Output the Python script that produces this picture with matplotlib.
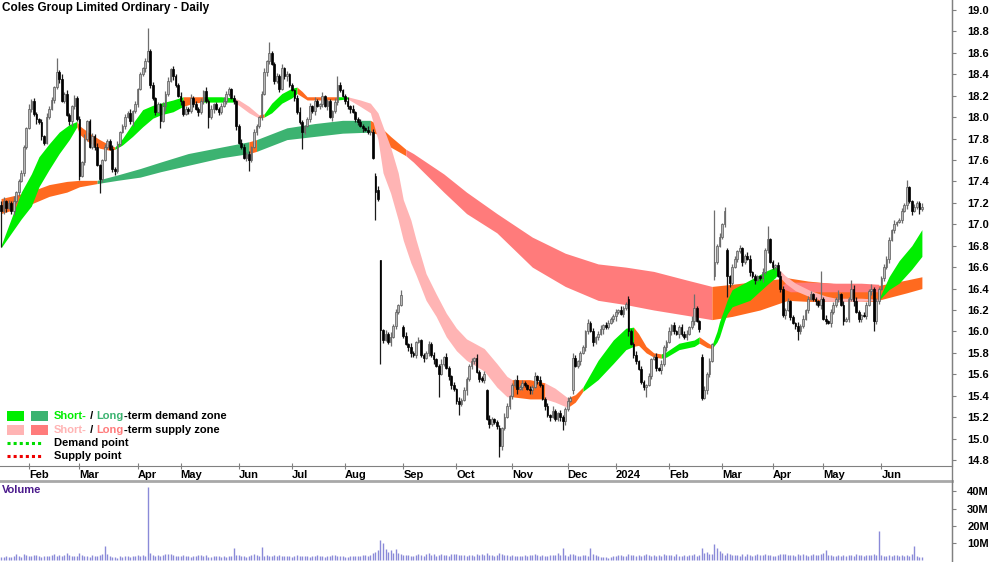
import matplotlib
matplotlib.use('Agg')
import matplotlib.pyplot as plt
import numpy as np
import pandas as pd
from matplotlib import transforms
from matplotlib.lines import Line2D
from matplotlib.patches import Rectangle

plt.rcParams['font.family'] = ['Liberation Sans', 'DejaVu Sans']

title = 'Coles Group Limited Ordinary - Daily'
first_day = '2023-01-16'
holidays = ['2023-01-26', '2023-04-07', '2023-04-10', '2023-04-25', '2023-06-12',
            '2023-12-25', '2023-12-26', '2024-01-01', '2024-01-26', '2024-03-29',
            '2024-04-01', '2024-04-25', '2024-06-10']

# daily closes, cents
closes = [
    1712, 1722, 1715, 1720, 1712, 1722, 1730, 1740, 1748, 1772,
    1790, 1808, 1815, 1803, 1798, 1795, 1782, 1776, 1800, 1808,
    1816, 1828, 1842, 1836, 1815, 1822, 1802, 1796, 1810, 1818,
    1798, 1745, 1758, 1780, 1796, 1772, 1782, 1772, 1755, 1742,
    1760, 1772, 1778, 1770, 1752, 1750, 1775, 1786, 1792, 1800,
    1804, 1796, 1806, 1812, 1826, 1840, 1846, 1852, 1862, 1830,
    1818, 1805, 1812, 1796, 1810, 1822, 1834, 1845, 1838, 1830,
    1820, 1815, 1803, 1808, 1806, 1818, 1812, 1808, 1805, 1815,
    1824, 1815, 1800, 1808, 1812, 1808, 1805, 1810, 1815, 1822,
    1826, 1818, 1815, 1792, 1776, 1772, 1762, 1766, 1760, 1772,
    1786, 1792, 1800, 1822, 1842, 1852, 1860, 1850, 1834, 1838,
    1826, 1846, 1838, 1840, 1830, 1825, 1818, 1805, 1795, 1786,
    1792, 1798, 1810, 1806, 1815, 1810, 1812, 1820, 1810, 1815,
    1800, 1806, 1814, 1830, 1825, 1820, 1815, 1810, 1808, 1805,
    1798, 1795, 1792, 1790, 1788, 1786, 1786, 1762, 1730, 1724,
    1601, 1592, 1598, 1590, 1595, 1605, 1618, 1625, 1634, 1596,
    1588, 1585, 1580, 1578, 1590, 1592, 1578, 1575, 1580, 1588,
    1578, 1574, 1568, 1560, 1570, 1576, 1566, 1558, 1550, 1546,
    1535, 1532, 1536, 1545, 1556, 1568, 1572, 1575, 1562, 1556,
    1555, 1560, 1518, 1514, 1518, 1515, 1512, 1493, 1510, 1520,
    1530, 1540, 1550, 1555, 1546, 1548, 1552, 1550, 1546, 1545,
    1548, 1558, 1555, 1550, 1537, 1530, 1522, 1520, 1526, 1518,
    1524, 1520, 1516, 1528, 1535, 1538, 1575, 1568, 1572, 1580,
    1585, 1600, 1608, 1600, 1590, 1595, 1598, 1602, 1606, 1604,
    1608, 1612, 1614, 1618, 1620, 1616, 1622, 1626, 1600, 1588,
    1578, 1572, 1565, 1553, 1548, 1550, 1558, 1574, 1576, 1566,
    1564, 1570, 1585, 1590, 1600, 1606, 1600, 1598, 1604, 1598,
    1595, 1598, 1604, 1610, 1622, 1610, 1602, 1538, 1545, 1560,
    1572, 1588, 1665, 1680, 1688, 1700, 1712, 1652, 1645, 1660,
    1668, 1675, 1678, 1665, 1670, 1668, 1655, 1652, 1648, 1652,
    1650, 1655, 1676, 1686, 1665, 1660, 1662, 1652, 1640, 1615,
    1620, 1628, 1613, 1608, 1605, 1600, 1605, 1612, 1620, 1630,
    1635, 1630, 1628, 1625, 1630, 1612, 1610, 1608, 1618, 1625,
    1630, 1635, 1625, 1610, 1612, 1630, 1640, 1628, 1618, 1612,
    1615, 1614, 1625, 1638, 1640, 1610, 1628, 1640, 1650, 1660,
    1668, 1685, 1695, 1700, 1702, 1704, 1712, 1718, 1735, 1722,
    1712, 1716, 1720, 1714, 1716,
]
# opens that differ from the previous close (gaps)
open_gaps = {0: 1718, 148: 1745, 149: 1732, 150: 1667, 159: 1604, 192: 1545,
             197: 1510, 226: 1545, 248: 1630, 277: 1576, 282: 1652, 287: 1676}
high_marks = {0: 1722, 22: 1855, 58: 1883, 106: 1870, 133: 1838, 148: 1748,
              150: 1667, 158: 1639, 226: 1580, 274: 1635, 282: 1713, 286: 1716,
              303: 1698, 324: 1656, 336: 1648, 358: 1741}
low_marks = {0: 1679, 39: 1729, 63: 1790, 82: 1790, 98: 1750, 119: 1770,
             148: 1704, 150: 1570, 173: 1539, 181: 1522, 197: 1483, 222: 1508,
             255: 1539, 277: 1536, 287: 1632, 315: 1592, 345: 1600}
# ordinary wick lengths beyond the body, cents per day
wick_up = ''.join([
    '2313241232', '1423213142', '3122413213', '2314123241', '1322413123',
    '2413121342', '3121423132', '2312142313', '1423121342', '2131243121',
    '3212413213', '2413121342', '1231421312', '2142312413', '1232141324',
    '2131423122', '3142131223', '2312414213', '1423123142', '2314212314',
    '3121423213', '2413123142', '1321421312', '2142312413', '3123142132',
    '2413213124', '1322413123', '2314121342', '3122413213', '2131243121',
    '1423121342', '2312142313', '3121423132', '2413121342', '1322413123',
    '2314123241', '13224'])
wick_dn = ''.join([
    '3241232413', '2132413212', '1324121342', '2413212314', '3121342213',
    '1242312413', '2313142132', '1421323142', '3212413213', '2134121342',
    '1323142132', '3124213214', '2132412313', '1423213241', '3214123132',
    '2312413212', '1342312413', '2413121342', '3121423213', '2314213142',
    '1232413213', '3142132412', '2413213123', '1321423142', '2134213241',
    '3212341213', '1423132142', '2312413213', '3142123142', '1324213241',
    '2413123132', '3121342213', '1232413142', '2314132413', '3121423213',
    '2413213142', '31242'])

# volume, millions
volume_m = [
    2.1, 2.0, 2.3, 1.9, 2.2, 2.4, 3.8, 2.6, 2.2, 3.9,
    3.2, 2.8, 2.5, 2.9, 3.4, 2.4, 2.2, 2.6, 2.3, 2.8,
    3.1, 3.6, 2.7, 3.3, 2.5, 3.0, 4.4, 2.9, 2.6, 2.4,
    2.8, 4.6, 3.1, 2.6, 2.4, 2.2, 2.9, 2.5, 2.7, 3.3,
    3.9, 8.3, 3.5, 2.4, 2.1, 1.8, 1.6, 2.3, 2.2, 2.6,
    2.4, 2.2, 2.8, 2.5, 2.9, 2.6, 3.1, 2.4, 42.5, 4.1,
    3.0, 2.6, 3.4, 2.8, 3.3, 3.6, 3.5, 3.5, 3.2, 2.6,
    2.8, 2.3, 3.0, 2.5, 2.4, 2.2, 2.7, 2.6, 3.1, 3.3,
    2.6, 2.9, 2.2, 2.0, 2.5, 2.8, 2.3, 2.1, 2.4, 2.2,
    2.6, 2.8, 7.0, 3.4, 3.2, 2.4, 2.6, 2.2, 2.8, 3.3,
    3.6, 3.0, 2.8, 8.0, 2.6, 3.1, 2.5, 2.7, 3.2, 2.4,
    2.9, 2.6, 2.3, 2.8, 2.4, 2.2, 2.6, 2.9, 2.5, 2.7,
    2.3, 2.6, 2.2, 2.4, 2.8, 3.0, 2.5, 2.4, 2.2, 2.7,
    2.5, 2.9, 3.2, 2.6, 2.8, 2.4, 2.2, 2.0, 2.6, 2.8,
    2.3, 2.7, 2.4, 2.9, 3.1, 2.6, 3.4, 4.2, 5.0, 6.2,
    12.0, 10.2, 6.4, 4.8, 5.8, 4.4, 6.8, 4.6, 3.9, 3.3,
    3.0, 3.2, 2.8, 2.6, 3.4, 3.5, 2.9, 2.7, 3.8, 4.2,
    3.1, 3.6, 2.8, 3.4, 3.9, 3.0, 3.3, 2.7, 3.5, 4.0,
    3.6, 2.9, 3.4, 3.1, 2.6, 3.0, 3.3, 2.8, 3.7, 3.2,
    3.5, 2.9, 4.2, 3.4, 3.0, 2.8, 3.3, 4.5, 3.6, 2.9,
    3.4, 2.6, 3.2, 2.5, 2.8, 2.4, 2.6, 3.0, 2.7, 3.3,
    2.9, 3.6, 3.4, 2.8, 3.1, 2.6, 2.4, 2.9, 3.2, 3.0,
    4.4, 3.2, 7.0, 3.1, 2.8, 3.6, 3.9, 3.2, 2.6, 2.4,
    3.4, 3.0, 2.8, 7.2, 3.6, 2.9, 2.5, 2.2, 2.0, 1.8,
    1.6, 1.9, 2.4, 2.8, 3.4, 3.0, 2.6, 2.8, 3.5, 3.3,
    3.0, 2.6, 3.1, 2.8, 3.4, 3.6, 3.0, 2.6, 3.2, 2.8,
    3.1, 2.8, 3.5, 3.0, 2.9, 3.3, 2.7, 3.6, 2.4, 2.8,
    3.2, 2.6, 3.0, 3.4, 3.5, 2.7, 3.2, 7.1, 4.5, 5.0,
    4.0, 3.6, 9.4, 7.0, 5.2, 4.1, 3.2, 4.5, 3.5, 3.0,
    2.9, 3.2, 2.7, 3.6, 2.5, 3.8, 3.0, 2.8, 3.3, 4.0,
    3.2, 2.9, 3.6, 3.1, 3.4, 2.7, 2.4, 3.0, 3.5, 3.8,
    3.6, 3.1, 3.3, 3.0, 2.8, 3.5, 3.2, 3.9, 3.0, 2.8,
    3.2, 3.6, 3.4, 3.1, 3.9, 4.2, 6.2, 3.4, 3.0, 2.8,
    2.6, 3.1, 2.4, 3.0, 2.7, 3.3, 3.0, 2.6, 3.5, 3.2,
    2.9, 2.5, 3.0, 3.4, 3.1, 3.6, 3.2, 17.2, 3.0, 2.8,
    2.6, 3.2, 2.5, 2.9, 3.0, 2.7, 3.3, 2.8, 3.1, 2.6,
    3.6, 8.1, 2.4, 2.2, 2.1,
]

# long-term zone (day index, top, bottom, state of the stretch that follows)
lt_days = [0, 11, 19, 26, 31, 38, 46, 55, 63, 74, 87, 98, 101, 113, 124, 135, 146, 149,
           154, 160, 163, 175, 184, 196, 210, 223, 236, 247, 258, 271, 281, 289, 300,
           311, 319, 332, 345, 358, 364]
lt_upper = [17.24, 17.30, 17.37, 17.40, 17.41, 17.41, 17.46, 17.52, 17.58, 17.66, 17.72,
            17.77, 17.79, 17.90, 17.94, 17.97, 17.97, 17.93, 17.82, 17.70, 17.66, 17.47,
            17.30, 17.10, 16.88, 16.73, 16.63, 16.60, 16.56, 16.48, 16.42, 16.44, 16.47,
            16.50, 16.47, 16.44, 16.42, 16.48, 16.51]
lt_lower = [17.10, 17.18, 17.26, 17.30, 17.35, 17.38, 17.41, 17.44, 17.49, 17.55, 17.62,
            17.66, 17.68, 17.79, 17.82, 17.85, 17.86, 17.84, 17.72, 17.64, 17.58, 17.30,
            17.10, 16.92, 16.60, 16.42, 16.29, 16.25, 16.20, 16.15, 16.11, 16.14, 16.20,
            16.29, 16.28, 16.28, 16.28, 16.36, 16.40]
lt_state = ['mixed'] * 5 + ['demand'] * 6 + ['mixed'] + ['demand'] * 4 + ['mixed'] * 3 + \
           ['supply'] * 11 + ['mixed'] * 9

# long-term supply strip seen on top of the zone in Apr-May 2024
lts_days = [309, 312, 320, 330, 340, 347]
lts_upper = [16.44, 16.46, 16.46, 16.45, 16.45, 16.44]
lts_lower = [16.40, 16.37, 16.37, 16.37, 16.37, 16.37]

# short-term zone
st_days = [0, 8, 12, 15, 19, 23, 27, 30, 31, 35, 39, 43, 45, 48, 52, 56, 60, 63, 68, 72,
           76, 80, 87, 92, 94, 98, 102, 104, 107, 111, 115, 117, 119, 121, 133, 137, 142,
           146, 149, 151, 154, 157, 159, 162, 164, 168, 172, 176, 180, 184, 191, 196, 200,
           202, 209, 215, 219, 224, 227, 230, 236, 242, 247, 250, 252, 255, 258, 261, 263,
           268, 274, 276, 279, 281, 283, 284, 286, 287, 289, 296, 303, 306, 307, 310, 314,
           320, 326, 330, 340, 347, 351, 355, 360, 364]
st_upper = [16.80, 17.30, 17.47, 17.63, 17.75, 17.86, 17.93, 17.96, 17.92, 17.85, 17.79,
            17.74, 17.72, 17.80, 17.94, 18.07, 18.11, 18.13, 18.16, 18.19, 18.19, 18.19,
            18.19, 18.18, 18.16, 18.10, 18.02, 18.03, 18.13, 18.22, 18.27, 18.28, 18.24,
            18.19, 18.19, 18.19, 18.16, 18.13, 18.04, 17.91, 17.72, 17.48, 17.23, 17.04,
            16.86, 16.54, 16.35, 16.17, 16.03, 15.93, 15.84, 15.70, 15.58, 15.55, 15.55,
            15.52, 15.47, 15.38, 15.41, 15.48, 15.73, 15.92, 16.03, 16.04, 15.98, 15.86,
            15.80, 15.79, 15.81, 15.89, 15.92, 15.95, 15.90, 15.87, 16.00, 16.09, 16.22,
            16.29, 16.39, 16.48, 16.57, 16.60, 16.59, 16.52, 16.45, 16.38, 16.33, 16.31,
            16.31, 16.30, 16.51, 16.66, 16.80, 16.95]
st_lower = [16.78, 17.05, 17.17, 17.35, 17.51, 17.66, 17.79, 17.91, 17.84, 17.76, 17.71,
            17.69, 17.70, 17.74, 17.82, 17.91, 17.99, 18.02, 18.05, 18.10, 18.13, 18.14,
            18.14, 18.14, 18.11, 18.04, 17.99, 18.00, 18.04, 18.13, 18.18, 18.22, 18.19,
            18.16, 18.16, 18.17, 18.10, 18.04, 17.79, 17.48, 17.29, 17.04, 16.85, 16.64,
            16.53, 16.29, 16.14, 15.95, 15.82, 15.73, 15.63, 15.48, 15.39, 15.39, 15.37,
            15.37, 15.34, 15.29, 15.34, 15.44, 15.55, 15.70, 15.83, 15.86, 15.87, 15.80,
            15.76, 15.75, 15.76, 15.83, 15.86, 15.89, 15.85, 15.84, 15.90, 15.95, 16.10,
            16.16, 16.23, 16.29, 16.44, 16.50, 16.53, 16.45, 16.38, 16.32, 16.28, 16.28,
            16.28, 16.29, 16.39, 16.45, 16.58, 16.70]
st_state = ['demand'] * 7 + ['mixed'] * 5 + ['demand'] * 7 + ['mixed'] * 2 + \
           ['demand'] * 2 + ['supply'] * 3 + ['mixed'] + ['demand'] * 4 + ['mixed'] * 3 + \
           ['demand'] + ['supply'] * 18 + ['mixed'] * 2 + ['supply'] * 2 + ['mixed'] * 2 + \
           ['demand'] * 4 + ['mixed'] * 4 + ['demand'] * 4 + ['mixed'] * 2 + \
           ['demand'] * 9 + ['supply'] * 7 + ['demand'] * 5

short_colours = {'demand': '#00ee00', 'supply': '#ffb4b4', 'mixed': '#ff6a1f'}
long_colours = {'demand': '#3cb371', 'supply': '#ff7b7b', 'mixed': '#ff6a1f'}

n = len(closes)
dates = pd.bdate_range(start=first_day, periods=n, freq='C', holidays=holidays)
x = np.arange(n)
c = np.array(closes) / 100
o = np.array([open_gaps.get(i, closes[i - 1] if i else closes[0]) for i in range(n)]) / 100
wu = np.array([int(ch) for ch in wick_up.ljust(n, '2')[:n]]) / 100
wd = np.array([int(ch) for ch in wick_dn.ljust(n, '2')[:n]]) / 100
hi = np.maximum(o, c) + wu
lo = np.minimum(o, c) - wd
for i, v in high_marks.items():
    hi[i] = max(v / 100, max(o[i], c[i]))
for i, v in low_marks.items():
    lo[i] = min(v / 100, min(o[i], c[i]))

fig = plt.figure(figsize=(10, 5.62), dpi=100)
ax = fig.add_axes([0, 96 / 562, 0.952, 466 / 562])
axv = fig.add_axes([0, 0, 0.952, 81 / 562])


def draw_zone(ax, days, upper, lower, states, colours, z):
    days, upper, lower = np.array(days), np.array(upper), np.array(lower)
    start = 0
    for k in range(1, len(days)):
        if k == len(days) - 1 or states[k] != states[start]:
            sl = slice(start, k + 1)
            ax.fill_between(days[sl], lower[sl], upper[sl], color=colours[states[start]],
                            lw=0, zorder=z)
            start = k


draw_zone(ax, lt_days, lt_upper, lt_lower, lt_state, long_colours, 2)
ax.fill_between(lts_days, lts_lower, lts_upper, color=long_colours['supply'], lw=0, zorder=2.2)
draw_zone(ax, st_days, st_upper, st_lower, st_state, short_colours, 2.5)

up = c >= o
ax.vlines(x[up], lo[up], hi[up], color='#6e6e6e', lw=0.9, zorder=3)
ax.vlines(x[~up], lo[~up], hi[~up], color='#1a1a1a', lw=0.9, zorder=3)
body = np.maximum(np.abs(c - o), 0.012)
ax.bar(x[up], body[up], bottom=np.minimum(o, c)[up], width=0.68, color='#b8b8b8',
       edgecolor='#5a5a5a', lw=0.5, zorder=4)
ax.bar(x[~up], body[~up], bottom=np.minimum(o, c)[~up], width=0.68, color='black',
       edgecolor='black', lw=0.5, zorder=4)

axv.vlines(x, 0, volume_m, color='#8a8ad8', lw=1.0)

for a in (ax, axv):
    a.set_xlim(-0.4, 375.9)
    a.spines['left'].set_visible(False)
    a.spines['top'].set_visible(False)
    a.spines['right'].set_color('#808080')
    a.yaxis.tick_right()
ax.spines['bottom'].set_color('#808080')
axv.spines['bottom'].set_visible(False)
axv.spines['top'].set_visible(True)
axv.spines['top'].set_color('#a8a8a8')
axv.spines['top'].set_linewidth(2)
fig.add_artist(Line2D([0.952, 0.952], [0, 1], transform=fig.transFigure, color='#808080', lw=1))

ax.set_ylim(14.744, 19.093)
yt = np.round(np.arange(14.8, 19.01, 0.2), 1)
ax.set_yticks(yt)
ax.set_yticklabels([f'{v:.1f}' for v in yt], fontweight='bold')
ax.tick_params(axis='y', direction='out', length=3, color='#808080', labelsize=8, pad=8)

ticks = [i for i in range(1, n) if dates[i].month != dates[i - 1].month]
labels = [str(dates[i].year) if dates[i].month == 1 else dates[i].strftime('%b') for i in ticks]
ax.set_xticks(ticks)
ax.set_xticklabels(labels, fontweight='bold', ha='left')
ax.tick_params(axis='x', direction='inout', length=4, color='#808080', labelsize=8, pad=1)

axv.set_ylim(-0.9, 46)
axv.set_yticks([10, 20, 30, 40])
axv.set_yticklabels(['10M', '20M', '30M', '40M'], fontweight='bold')
axv.tick_params(axis='y', direction='out', length=3, color='#808080', labelsize=8, pad=8)
axv.set_xticks([])
axv.text(0.002, 0.89, 'Volume', transform=axv.transAxes, color='#4b1a8c',
         fontweight='bold', fontsize=8, va='center')

ax.text(2 / 952, 1 - 8 / 466, title, transform=ax.transAxes, va='center',
        fontweight='bold', fontsize=8.5)


# legend, in figure pixels
def px(xp, yp):
    return xp / 1000, 1 - yp / 562


renderer = fig.canvas.get_renderer()


def colour_text(xp, yp, parts):
    t = fig.transFigure
    for s, col in parts:
        txt = fig.text(*px(xp, yp), s, color=col, transform=t, va='center',
                       fontweight='bold', fontsize=8)
        ex = txt.get_window_extent(renderer=renderer)
        t = transforms.offset_copy(txt.get_transform(), x=ex.width, units='dots')


for (xa, col) in [(7, short_colours['demand']), (31, long_colours['demand'])]:
    fig.add_artist(Rectangle(px(xa, 421), 17 / 1000, 10 / 562, transform=fig.transFigure,
                             color=col, lw=0))
for (xa, col) in [(7, short_colours['supply']), (31, long_colours['supply'])]:
    fig.add_artist(Rectangle(px(xa, 435), 17 / 1000, 10 / 562, transform=fig.transFigure,
                             color=col, lw=0))
colour_text(54, 416, [('Short-', short_colours['demand']), (' / ', 'black'),
                      ('Long', long_colours['demand']), ('-term demand zone', 'black')])
colour_text(54, 430, [('Short-', short_colours['supply']), (' / ', 'black'),
                      ('Long', long_colours['supply']), ('-term supply zone', 'black')])
for yp, col, lab in [(443, '#00dd00', 'Demand point'), (456, '#ee0000', 'Supply point')]:
    x0, y0 = px(7, yp)
    x1, _ = px(43, yp)
    fig.add_artist(Line2D([x0, x1], [y0, y0], transform=fig.transFigure, color=col,
                          lw=2.2, linestyle=(0, (1, 1))))
    fig.text(*px(54, yp), lab, va='center', fontweight='bold', fontsize=8)

fig.savefig('out.png', dpi=100)
